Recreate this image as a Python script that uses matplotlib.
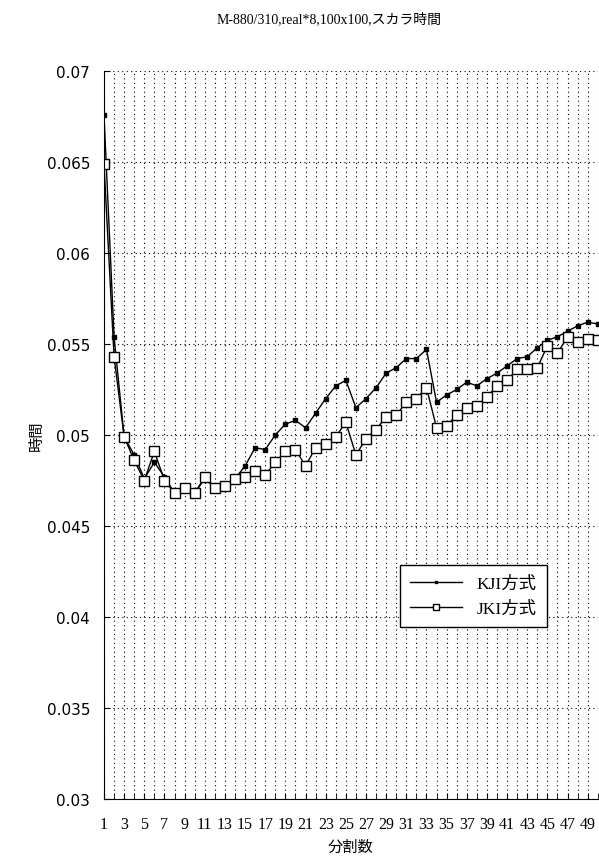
import matplotlib
matplotlib.use("Agg")
import matplotlib.pyplot as plt
import numpy as np

# division count 1..50
n_div = list(range(1, 51))

kji = [0.0676, 0.0554, 0.0499, 0.0489, 0.0476, 0.0485, 0.0477, 0.0468, 0.0471, 0.0468,
       0.0476, 0.0471, 0.0472, 0.0476, 0.0483, 0.0493, 0.0492, 0.0500, 0.0506, 0.0508,
       0.0504, 0.0512, 0.0520, 0.0527, 0.0530, 0.0515, 0.0520, 0.0526, 0.0534, 0.0537,
       0.0542, 0.0542, 0.0547, 0.0518, 0.0522, 0.0525, 0.0529, 0.0527, 0.0531, 0.0534,
       0.0538, 0.0542, 0.0543, 0.0548, 0.0552, 0.0554, 0.0557, 0.0560, 0.0562, 0.0561]

jki = [0.0649, 0.0543, 0.0499, 0.0486, 0.0475, 0.0491, 0.0475, 0.0468, 0.0471, 0.0468,
       0.0477, 0.0471, 0.0472, 0.0476, 0.0477, 0.0480, 0.0478, 0.0485, 0.0491, 0.0492,
       0.0483, 0.0493, 0.0495, 0.0499, 0.0507, 0.0489, 0.0498, 0.0503, 0.0510, 0.0511,
       0.0518, 0.0520, 0.0526, 0.0504, 0.0505, 0.0511, 0.0515, 0.0516, 0.0521, 0.0527,
       0.0530, 0.0536, 0.0536, 0.0537, 0.0549, 0.0545, 0.0554, 0.0551, 0.0553, 0.0552]

yticks = [0.03, 0.035, 0.04, 0.045, 0.05, 0.055, 0.06, 0.065, 0.07]
xticks = list(range(1, 50, 2))

cjk = ['Liberation Serif', 'Noto Sans CJK JP']

fig = plt.figure(figsize=(5.99, 8.62), dpi=100)
ax = fig.add_axes([0.1736, 0.0719, 0.8244, 0.8446])

ax.plot(n_div, kji, color='black', lw=1.0, marker='s', ms=3.0,
        markerfacecolor='black', label='KJI方式')
ax.plot(n_div, jki, color='black', lw=1.0, marker='s', ms=6.5,
        markerfacecolor='white', markeredgewidth=1.0, label='JKI方式')

ax.set_xlim(1, 50)
ax.set_ylim(0.03, 0.07)
ax.set_yticks(yticks)
ax.set_yticklabels([f'{v:g}' for v in yticks], fontsize=11)
ax.set_xticks(xticks)
ax.set_xticklabels([str(v) for v in xticks], fontsize=11.5, family=cjk)
ax.set_xticks(n_div, minor=True)
ax.tick_params(axis='both', direction='in', length=4)
ax.tick_params(axis='x', which='minor', direction='in', length=4)
ax.tick_params(axis='x', pad=12)
ax.tick_params(axis='y', pad=10)

# dotted grid: every division vertically, every 0.005 horizontally
for x in n_div:
    ax.axvline(x, color='black', lw=0.8, ls=(0, (1, 3)), zorder=0)
for y in yticks:
    ax.axhline(y, color='black', lw=0.8, ls=(0, (1, 3)), zorder=0)

ax.spines['top'].set_visible(False)
ax.spines['right'].set_visible(False)

ax.set_xlabel('分割数', fontsize=11, family=cjk, labelpad=6)
ax.set_ylabel('時間', fontsize=11, family=cjk, labelpad=2)

leg = ax.legend(loc='lower left', bbox_to_anchor=(0.599, 0.236), borderaxespad=0,
                prop={'family': cjk, 'size': 12.5},
                frameon=True, fancybox=False, edgecolor='black', handlelength=3.0,
                borderpad=0.6, labelspacing=0.5, markerscale=0.7)
leg.get_frame().set_linewidth(1.0)
leg.get_frame().set_alpha(1)

fig.text(0.55, 0.978, 'M-880/310,real*8,100x100,スカラ時間', ha='center', va='center',
         fontsize=10, family=cjk)

fig.savefig('out.png', dpi=100)
